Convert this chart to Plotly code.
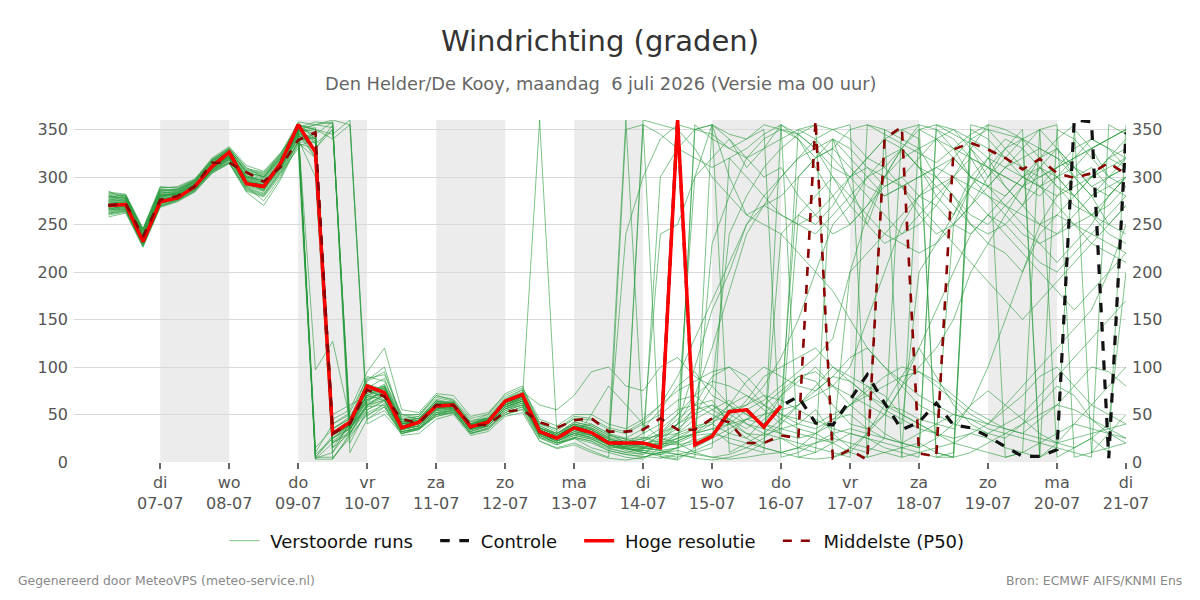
import plotly.graph_objects as go
import pandas as pd

# ---------------- data ----------------
start_time = "2026-07-06 06:00"
n_steps = 60
times = pd.date_range(start_time, periods=n_steps, freq="6h")

hires = [270, 271, 232, 274, 278, 290, 311, 326, 293, 290, 315, 355, 326,
         30, 42, 80, 73, 36, 42, 59, 60, 37, 42, 64, 71, 32, 25, 36, 31, 20,
         20, 20, 15, 360, 18, 27, 53, 55, 37, 59]

control = [270, 271, 232, 274, 278, 290, 311, 326, 293, 290, 315, 355, 326,
           30, 42, 80, 73, 36, 42, 59, 60, 37, 42, 64, 71, 32, 25, 36, 31, 20,
           20, 20, 15, 360, 18, 27, 53, 55, 37, 59,
           69, 41, 39, 65, 92, 62, 34, 42, 62, 39, 36, 27, 16, 6, 6, 13, 360, 358, 4, 347]

p50 = [270, 272, 237, 276, 280, 290, 315, 315, 305, 295, 311, 339, 347,
       30, 40, 76, 69, 45, 41, 60, 60, 39, 39, 53, 55, 42, 36, 44, 46, 32,
       32, 34, 46, 34, 34, 46, 42, 20, 20, 28,
       25, 360, 4, 13, 2, 340, 353, 9, 6, 329, 336, 329, 320, 308, 319, 304, 299, 304, 315, 303]

members = [
    [265,268,235,280,282,288,306,318,300,296,310,340,5, 28,38,70,78,40,44,62,58,40,45,60,68,35,30,40,28,22,18,15, 20,28,35,40,30,25,45,60, 300,320,340,290,250,300,330,310,280,260,300,320,290,270,310,330,300,280,250,270],
    [275,273,240,276,280,292,312,322,296,285,318,350,355, 352,30,60,70,38,40,55,62,35,40,58,66,30,22,30,26,18,12,8, 25,40,55,60,45,30,28,35, 40,55,30,15,10,25,350,340,10,5,330,300,320,340,5,15,350,330,300,310],
    [285,278,245,285,286,295,318,330,310,300,320,345,340, 15,40,85,95,45,48,70,65,42,50,72,80,40,35,45,40,30,25,35, 55,80,95,70,60,50,40,70, 90,85,60,40,35,50,80,120,90,60,40,30,25,40,60,80,70,45,30,20],
    [262,265,228,270,276,286,306,316,288,282,305,330,3, 3,30,55,65,35,38,58,56,35,38,56,62,28,20,25,20,12,8,5, 10,15,350,355,10,20,30,25, 15,10,340,320,300,280,290,300,310,320,300,290,280,300,320,330,310,290,280,300],
    [280,275,238,278,283,292,314,328,305,300,325,355,350, 340,355,40,50,30,36,48,52,30,35,52,58,32,28,38,34,25,20,30, 240,250,300,355,340,320,300,310, 280,260,240,250,270,290,300,280,270,250,240,260,280,300,310,290,280,300,320,310],
    [268,270,230,272,279,289,309,320,292,288,312,348,97, 127,45,75,80,42,40,60,60,38,42,62,70,34,26,36,30,20,18,22, 30,45,60,90,100,80,60,45, 35,30,20,10,5,350,340,330,300,280,250,230,220,200,240,260,250,230,220,210],
    [272,274,236,282,281,291,310,324,298,292,314,352,320, 35,45,90,85,50,45,65,60,40,48,66,74,60,55,70,95,100,80,75, 100,110,90,80,60,40,35,30, 25,30,40,60,80,70,50,40,30,25,30,40,55,70,90,100,80,60,50,40],
    [278,279,242,286,287,296,316,329,306,302,322,343,8, 25,35,60,65,30,35,50,55,30,36,50,55,25,18,25,15,10,5,3, 15,25,30,35,20,15,10,355, 345,330,310,300,320,340,350,355,5,10,350,340,320,300,290,300,310,330,340,350],
    [270,272,233,275,280,290,310,323,290,275,300,338,345, 358,35,65,75,35,38,55,58,36,40,60,68,36,28,40,35,22,20,25, 28,30,38,42,50,60,80,110, 150,200,250,270,300,310,290,260,240,250,270,300,330,340,320,300,280,260,270,290],
    [258,262,226,268,274,284,304,314,284,270,298,335,330, 30,38,72,82,48,50,68,64,44,46,64,72,40,32,46,44,34,30,40, 50,65,70,55,45,35,50,70, 85,100,80,60,45,30,20,15,350,330,300,290,310,330,350,5,15,25,10,355],
    [273,270,237,279,284,293,313,325,302,295,316,357,340, 20,32,78,88,40,42,60,63,39,44,65,73,30,24,32,28,18,15,12, 14,22,30,40,60,85,100,90, 80,75,90,110,120,100,85,70,60,50,45,40,35,30,45,60,80,100,95,80],
    [284,282,246,290,288,297,320,332,312,306,326,350,348, 3,28,50,58,28,30,45,50,28,32,48,52,22,15,20,12,5,350,355, 5,2,15,25,35,45,40,30, 260,250,270,300,320,340,330,310,300,280,260,250,270,290,310,300,280,260,240,230],
    [266,268,231,273,278,288,308,320,296,290,312,345,10, 40,50,68,72,36,40,58,58,34,40,58,64,360,30,42,38,28,24,20, 22,30,45,55,65,50,40,35, 30,25,20,200,220,240,260,280,300,320,340,350,330,310,290,270,250,240,260,280],
    [276,277,240,284,284,294,315,326,300,297,319,353,335, 350,40,82,76,44,46,64,60,40,46,64,72,38,30,40,36,26,360,30, 40,55,60,50,40,30,20,25, 20,15,10,5,355,350,5,10,15,20,30,25,15,10,5,350,340,320,300,290],
    [263,266,229,271,277,287,307,318,290,285,308,340,300, 10,42,66,70,38,40,56,58,36,42,62,70,32,26,35,40,30,20,18, 20,25,30,35,40,45,50,55, 60,70,80,100,150,200,250,280,290,300,280,260,240,220,200,180,160,180,200,220],
    [271,271,234,277,279,289,309,322,295,290,313,350,328, 30,44,80,73,38,42,60,60,38,43,64,70,34,26,36,32,22,22,20, 18,25,35,45,55,60,70,65, 55,45,35,30,25,20,15,10,5,5,10,20,30,40,50,60,55,45,35,25],
    [282,280,244,288,290,298,319,330,308,304,324,355,350, 345,360,48,62,34,38,52,56,36,40,56,60,30,24,30,25,15,10,8, 20,40,70,120,180,240,270,280, 300,320,330,310,290,280,290,300,310,300,290,280,270,260,250,240,250,260,250,240],
    [267,269,232,274,278,288,309,320,292,287,310,342,3, 20,30,58,66,32,36,52,54,32,38,54,60,26,20,26,22,14,10,14, 16,20,28,30,25,20,15,10, 5,3,5,10,30,60,90,120,160,200,240,260,250,230,210,200,220,240,230,220],
    [274,276,239,281,283,293,312,327,300,294,317,351,345, 25,36,64,74,40,44,62,60,38,44,60,66,30,24,32,30,20,16,14, 30,50,70,85,80,70,55,40, 350,340,320,300,280,260,240,250,270,300,330,355,5,10,350,330,310,290,300,320],
    [260,263,227,269,275,285,305,315,286,280,304,338,342, 45,55,95,120,55,52,72,70,48,52,70,78,45,38,50,50,40,35,45, 60,75,85,95,100,90,70,50, 40,35,45,60,75,90,100,95,80,65,50,40,60,80,100,120,140,160,200,250],
    [279,281,241,283,285,295,317,329,303,299,320,354,15, 35,48,62,80,46,48,66,62,42,46,62,70,36,28,38,34,24,20,16, 12,8,5,355,345,340,350,5, 10,20,30,35,30,25,20,30,40,50,45,35,30,25,20,15,10,5,355,345],
    [269,267,235,276,281,290,310,321,294,289,311,347,330, 355,35,58,60,32,35,50,52,32,38,56,64,28,22,28,24,16,14,10, 8,15,25,230,280,320,340,350, 345,330,300,270,250,230,240,260,280,300,320,310,290,270,250,260,280,300,320,330],
    [277,278,243,287,286,296,316,328,304,301,321,349,352, 30,42,75,68,36,40,56,56,36,40,58,64,30,24,36,30,20,18,360, 355,350,330,300,280,260,250,240, 220,200,180,150,120,100,80,60,50,40,35,30,40,50,70,90,110,130,150,170],
    [264,266,230,272,277,287,306,319,289,283,307,337,336, 28,40,70,78,42,44,62,62,40,44,62,68,32,26,34,28,20,16,18, 28,40,50,60,50,40,30,45, 60,75,90,85,70,60,55,45,40,35,60,100,150,200,250,280,300,310,290,280],
    [281,277,239,285,287,294,317,327,307,303,323,352,5, 5,25,52,60,30,34,48,52,30,34,50,56,22,14,18,10,4,2,5, 10,12,8,5,3,5,8,10, 15,20,25,20,15,10,5,350,340,330,320,310,300,290,300,310,320,330,340,350],
    [268,272,237,280,282,291,311,324,297,291,314,346,338, 32,40,86,100,44,46,62,64,40,46,66,76,38,30,42,38,28,24,26, 20,18,22,30,45,65,90,100, 110,120,100,90,80,60,50,40,30,20,15,10,5,10,20,30,40,35,30,25],
    [273,273,236,278,280,290,311,323,296,291,314,350,355, 360,355,45,54,32,36,50,54,34,38,54,60,28,20,28,24,16,14,12, 10,8,4,2,5,10,20,240, 260,280,300,280,260,240,230,220,230,250,270,290,310,320,330,320,300,280,290,300],
    [270,269,234,276,279,289,308,321,294,288,311,344,330, 25,38,66,76,40,42,60,60,38,44,62,70,34,26,36,32,22,240,300, 340,355,350,345,330,340,355,350, 340,320,330,350,355,345,335,325,315,330,345,355,350,340,330,320,310,300,320,340],
    [275,276,238,281,283,292,313,325,299,294,316,348,350, 15,30,62,70,36,40,56,58,36,42,60,66,30,22,30,26,18,14,12, 300,330,350,355,300,260,270,300, 320,330,340,330,310,290,300,320,340,350,330,310,300,290,280,300,320,340,330,320],
    [262,264,229,270,276,286,306,316,287,281,306,336,320, 28,40,72,80,42,46,64,62,40,46,64,72,36,28,38,34,24,20,22, 30,40,100,160,200,250,280,300, 320,340,350,355,5,10,15,20,10,5,355,350,345,340,350,355,5,10,15,20],
    [279,278,240,283,285,295,315,327,301,298,320,350,4, 10,34,60,72,38,42,58,60,36,42,60,68,32,24,34,30,20,18,15, 12,15,20,30,40,55,65,80, 95,110,130,200,260,300,320,330,340,320,300,280,260,240,230,240,260,280,300,310],
    [271,270,235,276,280,290,310,322,297,292,315,349,330, 35,46,76,72,38,42,60,62,40,44,62,70,36,30,40,36,26,22,24, 35,50,300,320,340,310,330,355, 340,310,280,250,270,300,330,355,350,340,320,290,270,250,230,210,230,250,280,300],
    [267,265,231,273,278,289,307,318,291,286,309,342,345, 50,60,70,65,34,38,54,56,34,40,58,64,28,20,24,50,80,60,40, 25,20,10,5,8,15,25,40, 60,80,100,85,70,55,45,35,30,250,290,320,340,330,310,290,270,260,280,300],
    [283,281,245,289,289,297,318,331,309,305,325,358,355, 358,20,55,64,32,36,52,54,32,38,56,62,30,22,30,28,18,15,10, 8,5,10,15,320,300,280,260, 250,240,260,280,300,320,330,310,290,270,250,240,250,270,290,310,330,340,330,310],
    [269,271,233,275,279,289,309,322,295,291,313,347,340, 22,35,68,78,40,44,62,60,38,44,62,70,34,26,36,30,20,16,14, 16,30,60,65,40,25,15,10, 15,30,45,50,35,25,20,15,25,40,60,75,60,45,30,20,15,25,40,200],
    [266,270,234,279,281,291,312,321,293,289,312,346,320, 30,42,74,70,40,44,60,58,38,44,60,66,32,26,36,30,22,20,18, 25,35,50,80,240,280,310,330, 345,355,5,15,30,50,80,100,120,150,200,230,260,290,320,340,355,10,30,50],
    [277,274,238,282,284,293,314,326,300,296,318,352,358, 356,10,45,58,30,34,50,52,30,36,52,58,26,18,26,22,12,8,6, 4,8,12,20,30,45,60,75, 90,95,80,70,60,50,40,200,230,260,290,310,330,350,5,20,40,60,80,100],
    [261,264,228,269,275,285,304,315,285,279,302,333,338, 40,52,88,92,50,50,70,66,46,50,68,76,42,34,48,46,36,32,42, 60,90,130,170,210,250,270,260, 250,260,280,300,310,300,290,270,250,230,210,190,170,150,170,190,210,230,250,270],
    [280,280,243,286,287,296,317,329,305,300,322,354,340, 20,36,60,68,34,38,54,56,34,40,58,64,30,22,32,28,18,14,10, 6,3,355,340,330,320,330,340, 350,355,350,340,320,310,330,350,355,345,335,320,310,300,290,280,290,300,310,320],
    [272,275,237,280,282,292,312,324,299,293,316,350,5, 25,40,70,80,42,46,64,62,40,46,64,72,36,28,38,32,22,18,16, 18,22,30,45,60,70,60,50, 45,40,50,60,70,80,90,95,85,70,55,45,35,30,25,20,25,30,35,40],
    [265,267,232,273,278,288,308,319,293,287,310,344,330, 350,45,78,74,40,42,58,58,36,42,60,68,34,26,34,30,20,16,355, 345,330,320,310,320,330,345,355, 5,10,20,30,25,15,10,5,355,350,340,330,320,310,300,310,320,330,340,350],
]

day_dates = ["2026-07-07", "2026-07-08", "2026-07-09", "2026-07-10", "2026-07-11",
             "2026-07-12", "2026-07-13", "2026-07-14", "2026-07-15", "2026-07-16",
             "2026-07-17", "2026-07-18", "2026-07-19", "2026-07-20", "2026-07-21"]
day_labels = ["di<br>07-07", "wo<br>08-07", "do<br>09-07", "vr<br>10-07", "za<br>11-07",
              "zo<br>12-07", "ma<br>13-07", "di<br>14-07", "wo<br>15-07", "do<br>16-07",
              "vr<br>17-07", "za<br>18-07", "zo<br>19-07", "ma<br>20-07", "di<br>21-07"]
shade_starts = ["2026-07-07", "2026-07-09", "2026-07-11", "2026-07-13",
                "2026-07-15", "2026-07-17", "2026-07-19"]
y_ticks = [0, 50, 100, 150, 200, 250, 300, 350]
x_range = ["2026-07-05 18:00", "2026-07-21 00:00"]

for m in members:
    assert len(m) == n_steps, len(m)

# ---------------- figure ----------------
FONT = "DejaVu Sans"
W, H = 1200, 600
ML, MR, MT, MB = 74, 74, 120, 138
PW, PH = W - ML - MR, H - MT - MB
NB = "\u00a0"


def px_x(px):
    return (px - ML) / PW


def px_y(py):
    return (H - MB - py) / PH


def lname(s, last=False):
    return NB + s + (NB if last else NB * 3)


fig = go.Figure()

for k, m in enumerate(members):
    fig.add_trace(go.Scatter(
        x=times, y=m, mode="lines",
        line=dict(color="rgba(40,155,60,0.6)", width=1),
        name=lname("Verstoorde runs"), legendgroup="ens", showlegend=(k == 0),
        hoverinfo="skip"))

fig.add_trace(go.Scatter(x=times[:len(control)], y=control, mode="lines",
                         line=dict(color="#111111", width=3.2, dash="dash"),
                         name=lname("Controle")))
fig.add_trace(go.Scatter(x=times[:len(hires)], y=hires, mode="lines",
                         line=dict(color="#ff0000", width=3.5),
                         name=lname("Hoge resolutie")))
fig.add_trace(go.Scatter(x=times[:len(p50)], y=p50, mode="lines",
                         line=dict(color="#8b0000", width=2.6, dash="dash"),
                         name=lname("Middelste (P50)", last=True)))
# invisible trace to activate right-hand axis
fig.add_trace(go.Scatter(x=times[:1], y=p50[:1], yaxis="y2", mode="markers",
                         marker=dict(opacity=0), showlegend=False, hoverinfo="skip"))

shapes = []
for d in shade_starts:
    d0 = pd.Timestamp(d)
    shapes.append(dict(type="rect", xref="x", yref="paper",
                       x0=d0, x1=d0 + pd.Timedelta(days=1), y0=0, y1=1,
                       fillcolor="#ececec", line=dict(width=0), layer="below"))

fig.update_layout(
    width=W, height=H,
    margin=dict(l=ML, r=MR, t=MT, b=MB),
    paper_bgcolor="white", plot_bgcolor="white",
    font=dict(family=FONT, color="#555555", size=16),
    title=dict(text="Windrichting (graden)", x=0.5, xanchor="center",
               y=1 - 41 / H, yanchor="middle", yref="container",
               font=dict(size=29, color="#333333", family=FONT)),
    shapes=shapes,
    showlegend=True,
    legend=dict(orientation="h", x=0.5, xanchor="center", y=px_y(541),
                yanchor="middle",
                font=dict(size=18, color="#111111", family=FONT),
                bgcolor="rgba(0,0,0,0)"),
    xaxis=dict(type="date", range=x_range, tickmode="array",
               tickvals=day_dates, ticktext=day_labels,
               ticks="outside", ticklen=6, tickcolor="#666666", tickwidth=2,
               showgrid=False, zeroline=False, showline=False,
               tickfont=dict(size=16, color="#555555")),
    yaxis=dict(range=[0, 360], tickmode="array", tickvals=y_ticks,
               showgrid=True, gridcolor="#d9d9d9", gridwidth=1,
               zeroline=False, showline=False, ticks="", ticklabelstandoff=5,
               tickfont=dict(size=16, color="#555555")),
    yaxis2=dict(range=[0, 360], tickmode="array", tickvals=y_ticks,
                overlaying="y", side="right", showgrid=False,
                zeroline=False, showline=False, ticks="", ticklabelstandoff=5,
                tickfont=dict(size=16, color="#555555")),
    annotations=[
        dict(text="Den Helder/De Kooy, maandag  6 juli 2026 (Versie ma 00 uur)",
             xref="paper", yref="paper", x=0.5, y=px_y(83),
             xanchor="center", yanchor="middle", showarrow=False,
             font=dict(size=17.8, color="#666666", family=FONT)),
        dict(text="Gegenereerd door MeteoVPS (meteo-service.nl)",
             xref="paper", yref="paper", x=px_x(16), y=px_y(580),
             xanchor="left", yanchor="middle", showarrow=False,
             font=dict(size=12.4, color="#888888", family=FONT)),
        dict(text="Bron: ECMWF AIFS/KNMI Ens",
             xref="paper", yref="paper", x=px_x(1184), y=px_y(580),
             xanchor="right", yanchor="middle", showarrow=False,
             font=dict(size=12.4, color="#888888", family=FONT)),
    ],
)

fig.write_html("out.html")
